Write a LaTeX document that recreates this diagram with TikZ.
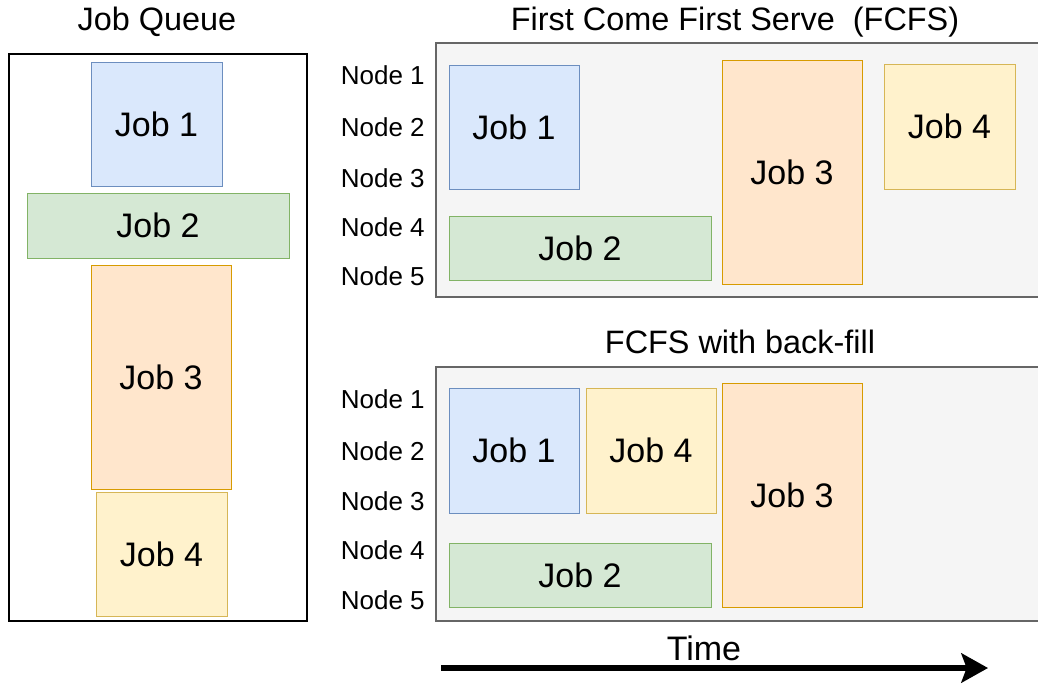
\documentclass[tikz,border=0pt]{standalone}
\usepackage{fontspec}
\setmainfont{Liberation Sans}
\usetikzlibrary{arrows.meta}

\definecolor{blueF}{HTML}{DAE8FC}
\definecolor{blueD}{HTML}{6C8EBF}
\definecolor{greenF}{HTML}{D5E8D4}
\definecolor{greenD}{HTML}{82B366}
\definecolor{orangeF}{HTML}{FFE6CC}
\definecolor{orangeD}{HTML}{D79B00}
\definecolor{yellowF}{HTML}{FFF2CC}
\definecolor{yellowD}{HTML}{D6B656}
\definecolor{panelF}{HTML}{F5F5F5}
\definecolor{panelD}{HTML}{666666}

\tikzset{
  box/.style 2 args={rectangle, inner sep=0pt, outer sep=0pt,
    minimum width=#1*0.75pt, minimum height=#2*0.75pt},
  job/.style={line width=0.75pt, font=\fontsize{25.5}{30}\selectfont},
  job1/.style={job, draw=blueD, fill=blueF},
  job2/.style={job, draw=greenD, fill=greenF},
  job3/.style={job, draw=orangeD, fill=orangeF},
  job4/.style={job, draw=yellowD, fill=yellowF},
  panel/.style={draw=panelD, fill=panelF, line width=1.1pt},
  title/.style={font=\fontsize{24.3}{29}\selectfont},
  lbl/.style={anchor=east, inner sep=0pt, font=\fontsize{19.5}{23}\selectfont}
}

\begin{document}
\begin{tikzpicture}[x=0.75pt, y=-0.75pt]
  \useasboundingbox (0,0) rectangle (1038,686);

  % job queue
  \node[title]                       (qT)  at (157,22)    {Job Queue};
  \node[box={298}{567}, draw, line width=0.8pt] (Q) at (158,337.5) {};
  \node[box={131}{124}, job1]        (q1)  at (156.5,124) {Job 1};
  \node[box={262}{65},  job2]        (q2)  at (158,225.5) {Job 2};
  \node[box={140}{224}, job3]        (q3)  at (161,377)   {Job 3};
  \node[box={131}{124}, job4]        (q4)  at (161.5,554) {Job 4};

  % FCFS
  \node[title]                       (fT)  at (735,22)    {First Come First Serve \ (FCFS)};
  \node[box={606}{254}, panel]       (F)   at (739,170)   {};
  \node[box={130}{124}, job1]        (f1)  at (514,127)   {Job 1};
  \node[box={262}{64},  job2]        (f2)  at (580,248)   {Job 2};
  \node[box={140}{224}, job3]        (f3)  at (792,172)   {Job 3};
  \node[box={131}{125}, job4]        (f4)  at (949.5,126.5) {Job 4};
  \node[lbl] (fn1) at (425,75)  {Node 1};
  \node[lbl] (fn2) at (425,127) {Node 2};
  \node[lbl] (fn3) at (425,178) {Node 3};
  \node[lbl] (fn4) at (425,227) {Node 4};
  \node[lbl] (fn5) at (425,276) {Node 5};

  % FCFS with back-fill
  \node[title]                       (bT)  at (740,342)   {FCFS with back-fill};
  \node[box={606}{254}, panel]       (B)   at (739,494)   {};
  \node[box={130}{125}, job1]        (b1)  at (514,450.5) {Job 1};
  \node[box={130}{125}, job4]        (b4)  at (651,450.5) {Job 4};
  \node[box={140}{224}, job3]        (b3)  at (792,495)   {Job 3};
  \node[box={262}{64},  job2]        (b2)  at (580,575)   {Job 2};
  \node[lbl] (bn1) at (425,399) {Node 1};
  \node[lbl] (bn2) at (425,451) {Node 2};
  \node[lbl] (bn3) at (425,501) {Node 3};
  \node[lbl] (bn4) at (425,550) {Node 4};
  \node[lbl] (bn5) at (425,600) {Node 5};

  % time axis
  \node[font=\fontsize{25.5}{30}\selectfont] (time) at (704,648) {Time};
  \coordinate (t0) at (441,668);
  \coordinate (t1) at (988,668);
  \draw[line width=3.8pt, -{Stealth[length=20pt, width=22pt, inset=4pt]}] (t0) -- (t1);
\end{tikzpicture}
\end{document}
